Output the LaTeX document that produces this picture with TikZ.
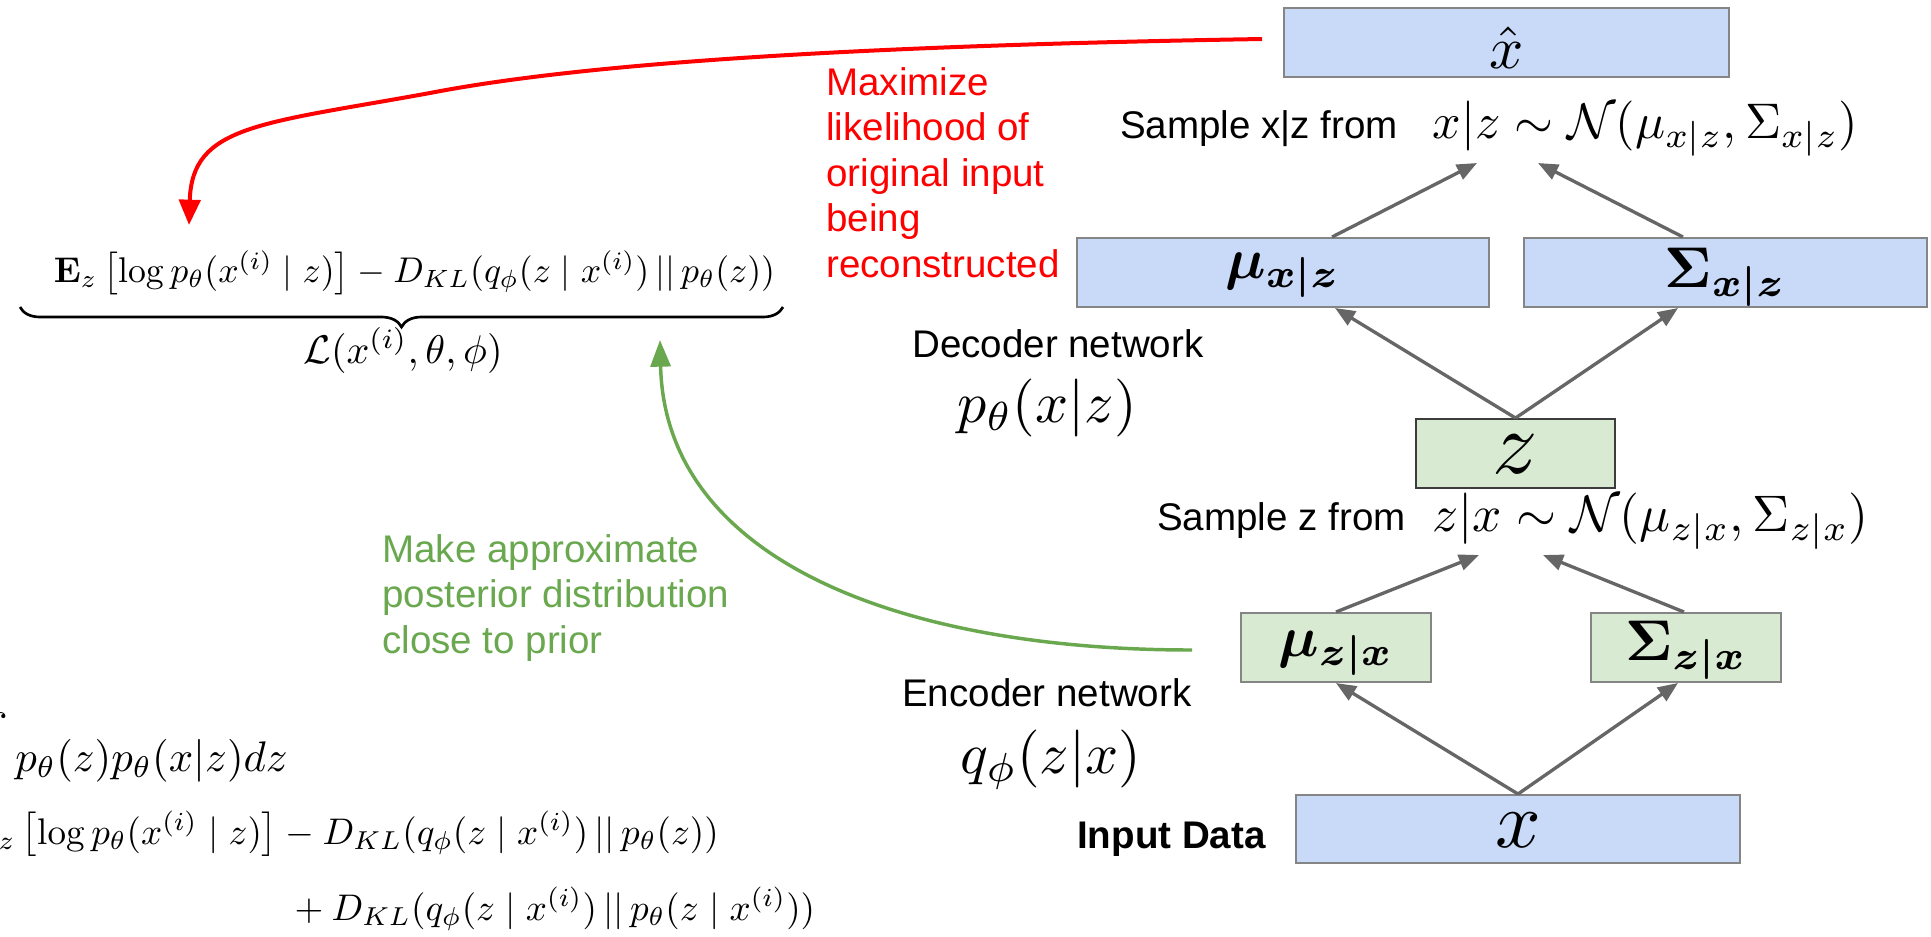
\documentclass[tikz,border=0pt]{standalone}
\usepackage{amsmath}
\usepackage{graphicx}
\usepackage[no-math]{fontspec}
\newfontfamily\arialf{Liberation Sans}
\usetikzlibrary{arrows.meta,decorations.pathreplacing}
\definecolor{blueF}{HTML}{C9DAF8}
\definecolor{greenF}{HTML}{D9EAD3}
\definecolor{boxline}{HTML}{858585}
\definecolor{zline}{HTML}{3C3C3C}
\definecolor{arrowgray}{HTML}{666666}
\definecolor{redA}{HTML}{FF0000}
\definecolor{greenA}{HTML}{6AA84F}
\newcommand\sftext{\arialf\fontsize{28.9}{34.1}\selectfont}
\begin{document}
\begin{tikzpicture}[x=0.75pt,y=-0.75pt,
  box/.style={draw=boxline, line width=1.5pt, inner sep=0pt, minimum height=51.75pt},
  bluebox/.style={box, fill=blueF},
  greenbox/.style={box, fill=greenF},
  lbl/.style={inner sep=0pt, font=\sftext},
  mathlbl/.style={inner sep=0pt},
  garrow/.style={draw=arrowgray, line width=2.5pt, -{Triangle[length=15pt,width=12pt]}},
  redarrow/.style={draw=redA, line width=3pt, -{Triangle[length=19pt,width=16pt]}},
  greenarrow/.style={draw=greenA, line width=2.6pt, -{Triangle[length=20pt,width=15pt]}},
  bracestyle/.style={decorate, decoration={brace, amplitude=15pt}, line width=2pt}]
\useasboundingbox (0,0) rectangle (1931,936);
\clip (0,0) rectangle (1931,936);

% boxes
\node[bluebox, minimum width=333.75pt, text height=45pt, text depth=6.75pt] (xh) at (1506.5,42.5) {\scalebox{4.5}{$\hat{x}$}};
\node[bluebox, minimum width=309pt, text height=30pt, text depth=21.75pt] (mux) at (1283,272.5) {\scalebox{4.3}{$\boldsymbol{\mu_{x|z}}$}};
\node[bluebox, minimum width=302.25pt, text height=36.75pt, text depth=15pt] (sigx) at (1725.5,272.5) {\scalebox{4.3}{$\boldsymbol{\Sigma_{x|z}}$}};
\node[greenbox, draw=zline, minimum width=149.25pt, text height=40.5pt, text depth=11.25pt] (z) at (1515.5,453.5) {\scalebox{6.7}{$z$}};
\node[greenbox, minimum width=142.5pt, text height=32.25pt, text depth=19.5pt] (muz) at (1336,647.5) {\scalebox{4.3}{$\boldsymbol{\mu_{z|x}}$}};
\node[greenbox, minimum width=142.5pt, text height=35.25pt, text depth=16.5pt] (sigz) at (1686,647.5) {\scalebox{4.3}{$\boldsymbol{\Sigma_{z|x}}$}};
\node[bluebox, minimum width=333pt, minimum height=51pt, text height=39pt, text depth=12pt] (x) at (1518,829) {\scalebox{6.0}{$x$}};

% right labels
\node[lbl, anchor=base west] (sxz) at (1120,138) {Sample x|z from};
\node[mathlbl, anchor=base] (nxz) at (1645.5,138) {\scalebox{3.75}{$x|z \sim \mathcal{N}(\mu_{x|z},\Sigma_{x|z})$}};
\node[lbl, anchor=base west] (dec) at (912,357) {Decoder network};
\node[mathlbl, anchor=base] (pth) at (1047,422) {\scalebox{4.35}{$p_\theta(x|z)$}};
\node[lbl, anchor=base west] (szx) at (1157,530) {Sample z from};
\node[mathlbl, anchor=base] (nzx) at (1650.5,531) {\scalebox{3.85}{$z|x \sim \mathcal{N}(\mu_{z|x},\Sigma_{z|x})$}};
\node[lbl, anchor=base west] (enc) at (902,706) {Encoder network};
\node[mathlbl, anchor=base] (qph) at (1051,773) {\scalebox{4.35}{$q_\phi(z|x)$}};
\node[lbl, anchor=base west, font=\sftext\bfseries] (inp) at (1077,848) {Input Data};

% coloured notes (base = last line)
\node[lbl, text=redA, align=left, anchor=base west] (rtxt) at (826,277) {Maximize\\likelihood of\\original input\\being\\reconstructed};
\node[lbl, text=greenA, align=left, anchor=base west] (gtxt) at (382,653) {Make approximate\\posterior distribution\\close to prior};

% ELBO
\node[mathlbl, anchor=base] (elbo) at (414.5,282) {\scalebox{2.68}{$\mathbf{E}_z\left[\log p_\theta(x^{(i)}\mid z)\right] - D_{KL}(q_\phi(z\mid x^{(i)})\,||\,p_\theta(z))$}};
\draw[bracestyle] (783,307) -- (20,307);
\node[mathlbl, anchor=base] (Lnode) at (403,363) {\scalebox{3.0}{$\mathcal{L}(x^{(i)},\theta,\phi)$}};

% bottom-left equations
\node[mathlbl, anchor=base east] (intl) at (288,771) {\scalebox{3.21}{$\displaystyle\int p_\theta(z)p_\theta(x|z)dz$}};
\node[mathlbl, anchor=base east] (eqtwo) at (719,844) {\scalebox{2.78}{$\mathbf{E}_z\left[\log p_\theta(x^{(i)}\mid z)\right] - D_{KL}(q_\phi(z\mid x^{(i)})\,||\,p_\theta(z))$}};
\node[mathlbl, anchor=base west] (eqthree) at (286,920) {\scalebox{2.78}{${}+D_{KL}(q_\phi(z\mid x^{(i)})\,||\,p_\theta(z\mid x^{(i)}))$}};

% gray connectors
\coordinate (tx1) at (1477,163);
\coordinate (tx2) at (1538,163);
\coordinate (tz1) at (1479,555);
\coordinate (tz2) at (1543,555);
\draw[garrow] (z.north) -- ([xshift=39pt]mux.south);
\draw[garrow] (z.north) -- ([xshift=-35.6pt]sigx.south);
\draw[garrow] ([xshift=36.75pt]mux.north) -- (tx1);
\draw[garrow] ([xshift=-31.9pt]sigx.north) -- (tx2);
\draw[garrow] (x.north) -- (muz.south);
\draw[garrow] (x.north) -- ([xshift=-6pt]sigz.south);
\draw[garrow] (muz.north) -- (tz1);
\draw[garrow] ([xshift=-1.5pt]sigz.north) -- (tz2);

% red and green curved arrows
\coordinate (rs) at (1262,39);
\coordinate (rt) at (189,225);
\draw[redarrow] (rs) .. controls (900,45) and (600,60) .. (430,93) .. controls (260,124) and (192,125) .. (rt);
\coordinate (gs) at (1192,650);
\coordinate (gt) at (660,340);
\draw[greenarrow] (gs) .. controls (900,650) and (665,560) .. (gt);
\end{tikzpicture}
\end{document}
